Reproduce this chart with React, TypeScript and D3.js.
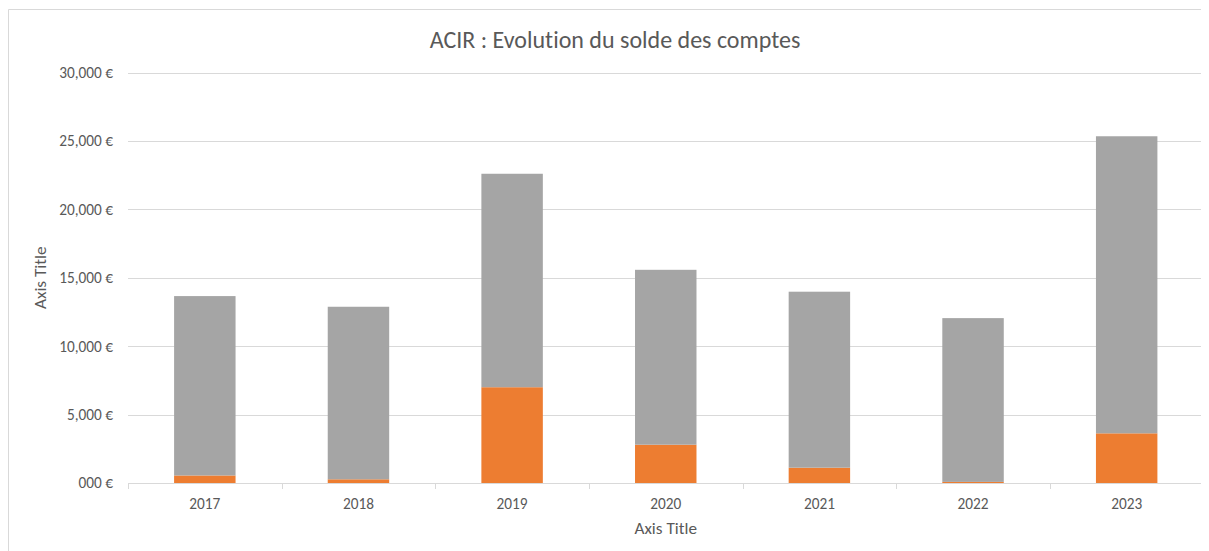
import React, { useEffect } from "react";
import * as d3 from "d3";

const years = ["2017", "2018", "2019", "2020", "2021", "2022", "2023"];
// stacked series, bottom to top
const soldeOrange = [550, 270, 7000, 2800, 1120, 80, 3630];
const soldeGris = [13110, 12610, 15600, 12780, 12860, 11970, 21710];
const yTicks = [0, 5000, 10000, 15000, 20000, 25000, 30000];
const yTickLabels = ["000 €", "5,000 €", "10,000 €", "15,000 €", "20,000 €", "25,000 €", "30,000 €"];
const seriesKeys = ["orange", "gris"];
const seriesColors = ["#ED7D31", "#A5A5A5"];

// the chart runs past the right and bottom edges of the window, like the original
const W = 1201, H = 543;
const font = "Carlito, Calibri, Lato, 'Open Sans', sans-serif";

export default function App() {
  useEffect(() => {
    // no scrollbars from the overflowing chart frame
    document.documentElement.style.overflow = "hidden";
  }, []);

  // page coordinates, shifted by the body margin
  const left = 128, right = 1203.5, top = 72.5, bottom = 483;

  const x = d3.scaleBand().domain(years).range([left, right]).paddingInner(0.6).paddingOuter(0.3);
  const y = d3.scaleLinear().domain([0, 30000]).range([bottom, top]);

  const rows = years.map((yr, i) => ({ year: yr, orange: soldeOrange[i], gris: soldeGris[i] }));
  const stacked = d3.stack<any>().keys(seriesKeys)(rows);

  const step = x.step();
  const boundaries = d3.range(years.length + 1).map(i => left + i * step);

  return (
    <svg width={W} height={H} style={{ display: "block", fontVariantLigatures: "none" }} fontFamily={font}>
      <g transform="translate(-8,-8)">
        <path d="M8.5,560V9.5H1220" fill="none" stroke="#D9D9D9" />
        <text x={615} y={48} textAnchor="middle" fontSize={24} fill="#595959">
          ACIR : Evolution du solde des comptes
        </text>

        {yTicks.filter(t => t > 0).map(t => (
          <line key={t} x1={left} x2={right} y1={Math.round(y(t)) + 0.5} y2={Math.round(y(t)) + 0.5} stroke="#D9D9D9" />
        ))}
        {yTicks.map((t, i) => (
          <text key={t} x={113} y={y(t)} dy="0.35em" textAnchor="end" fontSize={15.3} fill="#595959">
            {yTickLabels[i]}
          </text>
        ))}

        {stacked.map((s, si) => (
          <g key={s.key} fill={seriesColors[si]}>
            {s.map((d, i) => (
              <rect key={i} x={x(years[i])!} width={x.bandwidth()} y={y(d[1])} height={y(d[0]) - y(d[1])} />
            ))}
          </g>
        ))}

        <line x1={left} x2={right} y1={483.5} y2={483.5} stroke="#D9D9D9" />
        {boundaries.map((bx, i) => (
          <line key={i} x1={Math.round(bx) + 0.5} x2={Math.round(bx) + 0.5} y1={483.5} y2={489} stroke="#D9D9D9" />
        ))}
        {years.map(yr => (
          <text key={yr} x={x(yr)! + x.bandwidth() / 2} y={509} textAnchor="middle" fontSize={15.3} fill="#595959">
            {yr}
          </text>
        ))}

        <text x={(left + right) / 2} y={534} textAnchor="middle" fontSize={17.2} fill="#595959">Axis Title</text>
        <text transform={`translate(46,${(top + bottom) / 2}) rotate(-90)`} textAnchor="middle" fontSize={17.2} fill="#595959">
          Axis Title
        </text>
      </g>
    </svg>
  );
}
